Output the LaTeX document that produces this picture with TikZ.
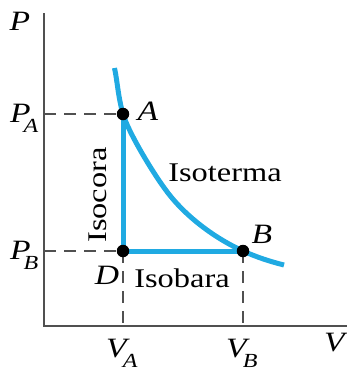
\documentclass[tikz,border=0pt]{standalone}
\usepackage{fontspec}
\setmainfont{Liberation Serif}[FakeStretch=1.2]
\definecolor{isoblue}{RGB}{32,170,226}
\definecolor{axisgray}{RGB}{80,80,80}
\newcommand\lbl[2]{\textit{#1}\kern-7pt\raisebox{-10pt}{\fontsize{20}{20}\selectfont\textit{#2}}}
\begin{document}
\begin{tikzpicture}[x=1pt,y=-1pt,
  axisline/.style={draw=axisgray,line width=1.5pt},
  dashline/.style={draw=axisgray,line width=1.3pt,dash pattern=on 12pt off 8pt},
  blueline/.style={draw=isoblue,line width=5pt,line join=round},
  dot/.style={circle,fill=black,inner sep=0pt,minimum size=12.5pt},
  mathlbl/.style={inner sep=0pt,font=\fontsize{28}{30}\selectfont},
  txt/.style={inner sep=0pt,font=\fontsize{27}{30}\selectfont}]
\useasboundingbox (0,0) rectangle (347,373);
% axes
\coordinate (O) at (44,326);
\coordinate (Ytop) at (44,13);
\coordinate (Xend) at (347,326);
\coordinate (PA) at (44,114);
\coordinate (PB) at (44,251);
\coordinate (VA) at (123,326);
\coordinate (VB) at (243,326);
\coordinate (a) at (123,114);
\coordinate (d) at (123,251);
\coordinate (b) at (243,251);
\coordinate (cs) at (114.5,68);
\coordinate (cm) at (168,193);
\coordinate (ce) at (284,265);
\draw[axisline] (Ytop) -- (O) -- (Xend);
% dashed guides
\draw[dashline] (PA) -- (a);
\draw[dashline] (PB) -- (d);
\draw[dashline] (d) -- (VA);
\draw[dashline] (b) -- (VB);
% process lines
\draw[blueline] (a) -- (d) -- (b);
\draw[blueline] (cs) .. controls (117.5,82) and (118,96.5) .. (a)
  .. controls (128,131.5) and (153,173.5) .. (cm)
  .. controls (188,219) and (218,239.75) .. (b)
  .. controls (257,257.3) and (270,261.5) .. (ce);
% points
\node[dot] (A) at (a) {};
\node[dot] (D) at (d) {};
\node[dot] (B) at (b) {};
% labels
\node[mathlbl] (Alab) at (148,111) {\textit{A}};
\node[mathlbl] (Blab) at (262,234) {\textit{B}};
\node[mathlbl] (Dlab) at (107,275) {\textit{D}};
\node[mathlbl] (Plab) at (20,21) {\textit{P}};
\node[mathlbl] (Vlab) at (336,343) {\textit{V}};
\node[mathlbl,anchor=base west] (PAlab) at (10,122) {\lbl{P}{A}};
\node[mathlbl,anchor=base west] (PBlab) at (10,259) {\lbl{P}{B}};
\node[mathlbl,anchor=base west] (VAlab) at (106,357) {\lbl{V}{A}};
\node[mathlbl,anchor=base west] (VBlab) at (226,357) {\lbl{V}{B}};
\node[txt] (iso) at (225,173) {Isoterma};
\node[txt] (isob) at (182,278) {Isobara};
\node[txt,rotate=90] (isoc) at (98,195) {Isocora};
\end{tikzpicture}
\end{document}
